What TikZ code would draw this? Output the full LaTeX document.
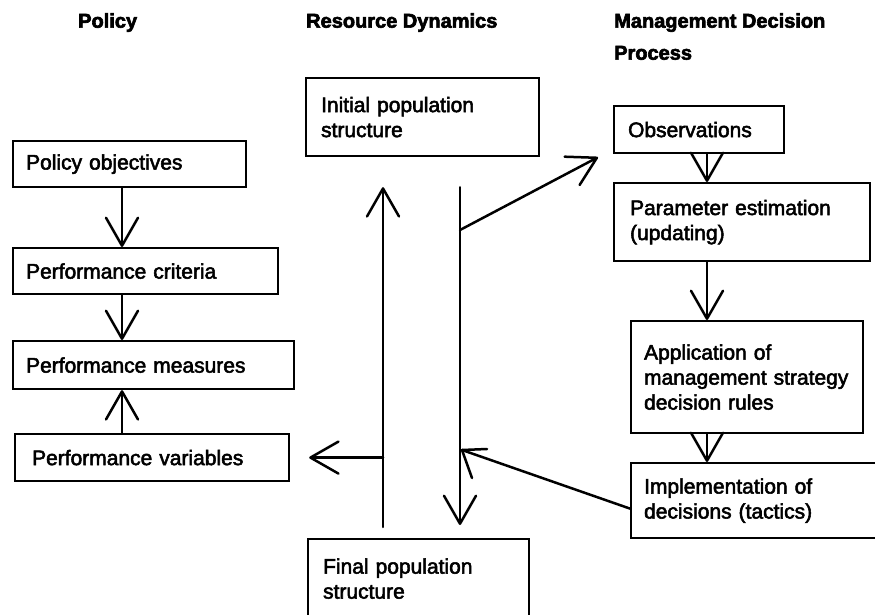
\documentclass[tikz,border=0pt]{standalone}
\usepackage{fontspec}
\setmainfont{Liberation Sans}
\newfontfamily\boxfont{Liberation Sans}[UprightFeatures={FakeBold=2.5}]
\newfontfamily\headfont{Liberation Sans}[BoldFeatures={FakeBold=3}]
\usetikzlibrary{arrows.meta,calc}
\begin{document}
\begin{tikzpicture}[x=1pt,y=-1pt,
  ln/.style={line width=2.5pt,line join=round,line cap=round},
  arr/.style={ln,-{Straight Barb[length=28pt,width=32pt,round]}},
  box/.style n args={4}{draw,line width=2.2pt,anchor=north west,
    minimum width=#1pt,minimum height=#2pt,inner xsep=#3pt,inner ysep=0pt,
    text width=#4pt,align=left,font=\boxfont\fontsize{21}{25}\selectfont},
  head/.style={anchor=north west,inner sep=0pt,align=left,
    font=\headfont\fontsize{20}{32}\selectfont\bfseries}]
\useasboundingbox (0,0) rectangle (875,615);
\fill[white] (0,0) rectangle (875,615);
\clip (0,0) rectangle (875,615);

% headers
\node[head] (hpol) at (78,13) {Policy};
\node[head] (hres) at (306,13) {Resource Dynamics};
\node[head] (hman) at (614,13) {Management Decision\\Process};

% policy column
\node[box={233}{46}{13}{207}] (po) at (12,140) {Policy objectives};
\node[box={265}{46}{13}{239}] (pc) at (12,247) {Performance criteria};
\node[box={281}{48}{13}{255}] (pm) at (12,340) {Performance measures};
\node[box={274}{47}{17}{240}] (pv) at (14,433) {Performance variables};

% resource dynamics
\node[box={233}{78}{15}{203}] (init) at (305,77) {Initial population\\structure};
\node[box={221}{79}{15}{191}] (fin) at (307,538) {Final population\\structure};

% management decision process
\node[box={170}{47}{14}{142}] (obs) at (613,105) {Observations};
\node[box={256}{78}{16}{224}] (pe) at (613,182) {Parameter~estimation\\(updating)};
\node[box={232}{112}{13}{206}] (app) at (630,320) {Application~of\\management~strategy\\decision~rules};
\node[box={260}{75}{13}{234}] (impl) at (630,462) {Implementation~of\\decisions~(tactics)};

% policy arrows
\draw[arr] ($(po.south west)+(110,0)$) -- ($(pc.north west)+(110,0)$);
\draw[arr] ($(pc.south west)+(110,0)$) -- ($(pm.north west)+(110,0)$);
\draw[arr] ($(pv.north west)+(108,0)$) -- ($(pm.south west)+(110,0)$);

% resource dynamics arrows
\coordinate (lx) at ($(fin.north west)+(76,0)$);
\draw[arr,shorten <=11pt,shorten >=30pt] (lx) -- ($(init.south west)+(78,0)$);
\draw[arr,shorten <=30pt,shorten >=13pt] ($(init.south west)+(155,0)$) -- ($(fin.north west)+(153,0)$);
\coordinate (br) at (460,230);
\draw[arr] (br) -- ($(obs.south west)+(-15,3)$);
\draw[arr,shorten >=19pt] (pv.east -| lx) -- (pv.east);
\coordinate (rt) at (462,450);
\draw[ln] ($(impl.west)+(0,8)$) -- (rt);
\draw[ln] ($(rt)+(25,-1)$) -- (rt) -- ($(rt)+(10,28)$);

% management arrows
\draw[arr] ($(obs.south west)+(94,0)$) -- ($(pe.north west)+(94,0)$);
\draw[arr] ($(pe.south west)+(94,0)$) -- ($(app.north west)+(77,0)$);
\draw[arr] ($(app.south west)+(77,0)$) -- ($(impl.north west)+(77,0)$);
\end{tikzpicture}
\end{document}
